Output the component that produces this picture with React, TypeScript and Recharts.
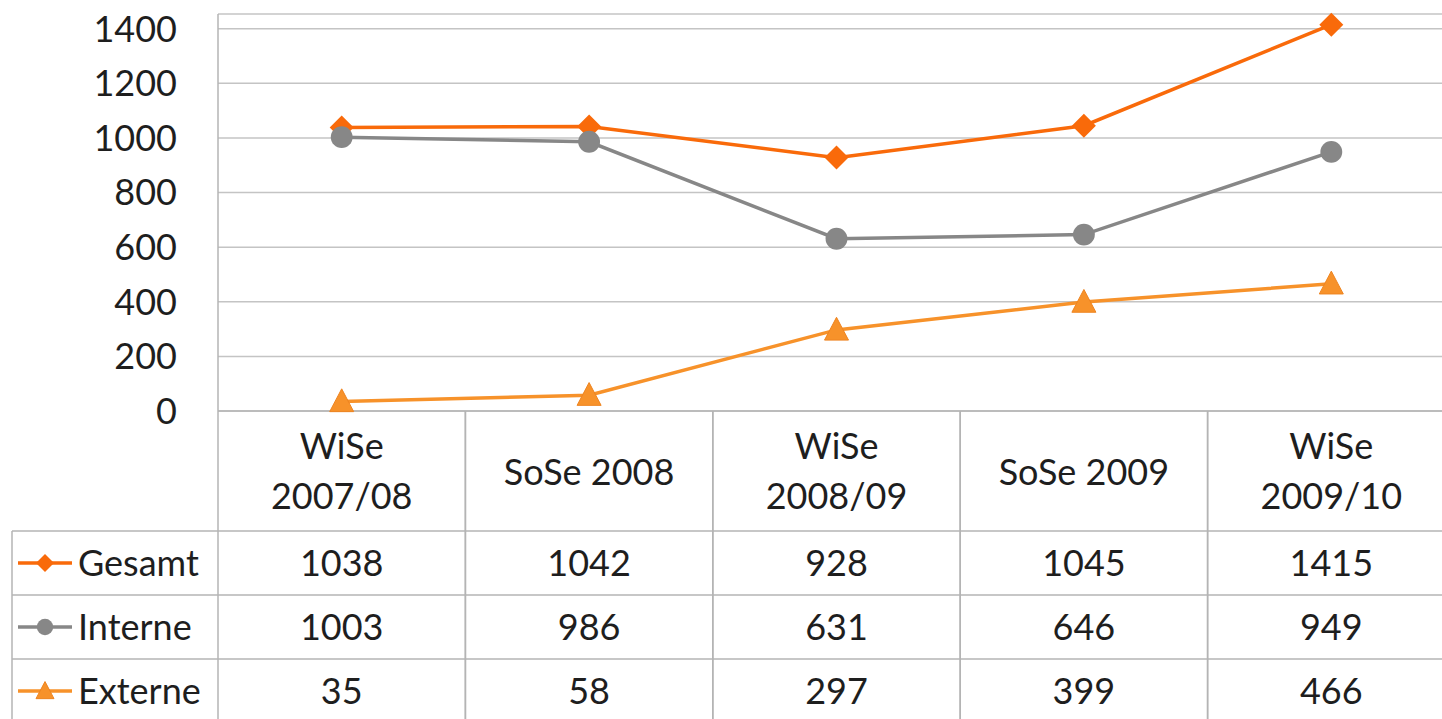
import { LineChart, Line, XAxis, YAxis, CartesianGrid } from "recharts"

const categories = ["WiSe\n2007/08", "SoSe 2008", "WiSe\n2008/09", "SoSe 2009", "WiSe\n2009/10"]
const gesamt = [1038, 1042, 928, 1045, 1415]
const interne = [1003, 986, 631, 646, 949]
const externe = [35, 58, 297, 399, 466]
const yTicks = [0, 200, 400, 600, 800, 1000, 1200, 1400]

const series = [
  { key: "Gesamt", values: gesamt, color: "#F96A0A", shape: "diamond" },
  { key: "Interne", values: interne, color: "#878787", shape: "circle" },
  { key: "Externe", values: externe, color: "#F7922A", shape: "triangle" },
]

const data = categories.map((cat, i) => ({
  cat,
  Gesamt: gesamt[i],
  Interne: interne[i],
  Externe: externe[i],
}))

const W = 1460
const H = 719
const PLOT_LEFT = 218
const PLOT_RIGHT = 1455
const COL = (PLOT_RIGHT - PLOT_LEFT) / categories.length
const TABLE_LEFT = 12
const HEAD_H = 120
const ROW_H = 64
const LINE = "#b4b4b4"
const TEXT = "#1e1e1e"
const FONT = "Lato, 'Open Sans', sans-serif"

function shapeSize(shape: string) {
  return shape === "diamond" ? 12 : shape === "circle" ? 11.5 : 12
}

function Marker({ cx, cy, shape, color, s }: { cx: number; cy: number; shape: string; color: string; s: number }) {
  if (shape === "diamond") {
    return <polygon points={`${cx},${cy - s} ${cx + s},${cy} ${cx},${cy + s} ${cx - s},${cy}`} fill={color} />
  }
  if (shape === "circle") {
    return <circle cx={cx} cy={cy} r={s * 0.95} fill={color} />
  }
  return (
    <polygon
      points={`${cx},${cy - s * 1.05} ${cx + s},${cy + s * 0.85} ${cx - s},${cy + s * 0.85}`}
      fill={color}
      stroke="#ee8420"
      strokeWidth={1}
    />
  )
}

function TableColumn(props: any) {
  const { x, y, payload } = props
  const i = payload.index
  const lines = String(payload.value).split("\n")
  const left = x - COL / 2
  const right = x + COL / 2
  const rowY = (r: number) => y + HEAD_H + ROW_H * r + ROW_H / 2
  return (
    <g fontFamily={FONT} fontSize={36} fill={TEXT}>
      <line x1={left} y1={y} x2={left} y2={H} stroke={LINE} strokeWidth={1.5} />
      <line x1={right} y1={y} x2={right} y2={H} stroke={LINE} strokeWidth={1.5} />
      {lines.length === 1 ? (
        <text x={x} y={y + HEAD_H / 2} textAnchor="middle" dominantBaseline="central" fill={TEXT}>{lines[0]}</text>
      ) : (
        lines.map((l, k) => (
          <text key={k} x={x} y={y + 34 + k * 50} textAnchor="middle" dominantBaseline="central" fill={TEXT}>{l}</text>
        ))
      )}
      {series.map((s, r) => (
        <text key={s.key} x={x} y={rowY(r) - 1} textAnchor="middle" dominantBaseline="central" fill={TEXT}>
          {s.values[i]}
        </text>
      ))}
      {i === 0 && (
        <g>
          <line x1={TABLE_LEFT} y1={y + HEAD_H} x2={TABLE_LEFT} y2={H} stroke={LINE} strokeWidth={1.5} />
          {[0, 1, 2].map(r => (
            <line key={r} x1={TABLE_LEFT} y1={y + HEAD_H + ROW_H * r} x2={W} y2={y + HEAD_H + ROW_H * r} stroke={LINE} strokeWidth={1.5} />
          ))}
          {series.map((s, r) => (
            <g key={s.key}>
              <line x1={18} y1={rowY(r)} x2={72} y2={rowY(r)} stroke={s.color} strokeWidth={3.5} />
              <Marker cx={45} cy={rowY(r)} shape={s.shape} color={s.color} s={shapeSize(s.shape) * 0.75} />
              <text x={78} y={rowY(r) - 1} dominantBaseline="central" fill={TEXT}>{s.key}</text>
            </g>
          ))}
        </g>
      )}
    </g>
  )
}

export default function App() {
  return (
    <div style={{ position: "absolute", left: 0, top: 0, width: 1442, height: H, overflow: "hidden", background: "#fff" }}>
      <LineChart width={W} height={H} data={data} margin={{ top: 14, right: W - PLOT_RIGHT, left: 0, bottom: 0 }}>
        <CartesianGrid vertical={false} stroke="#c4c4c4" strokeWidth={1.5} />
        <XAxis
          dataKey="cat"
          height={H - 411}
          padding={{ left: COL / 2, right: COL / 2 }}
          axisLine={{ stroke: LINE, strokeWidth: 1.5 }}
          tickLine={false}
          tickSize={0}
          tickMargin={0}
          interval={0}
          tick={<TableColumn />}
        />
        <YAxis
          width={PLOT_LEFT}
          domain={[0, 1454]}
          ticks={yTicks}
          axisLine={{ stroke: LINE, strokeWidth: 1.5 }}
          tickLine={false}
          tickSize={0}
          tickMargin={41}
          tick={{ fill: TEXT, fontSize: 36, fontFamily: FONT }}
        />
        {series.map(s => (
          <Line
            key={s.key}
            dataKey={s.key}
            stroke={s.color}
            strokeWidth={3.5}
            isAnimationActive={false}
            dot={(p: any) => <Marker key={p.index} cx={p.cx} cy={p.cy} shape={s.shape} color={s.color} s={shapeSize(s.shape)} />}
            activeDot={false}
          />
        ))}
      </LineChart>
    </div>
  )
}
